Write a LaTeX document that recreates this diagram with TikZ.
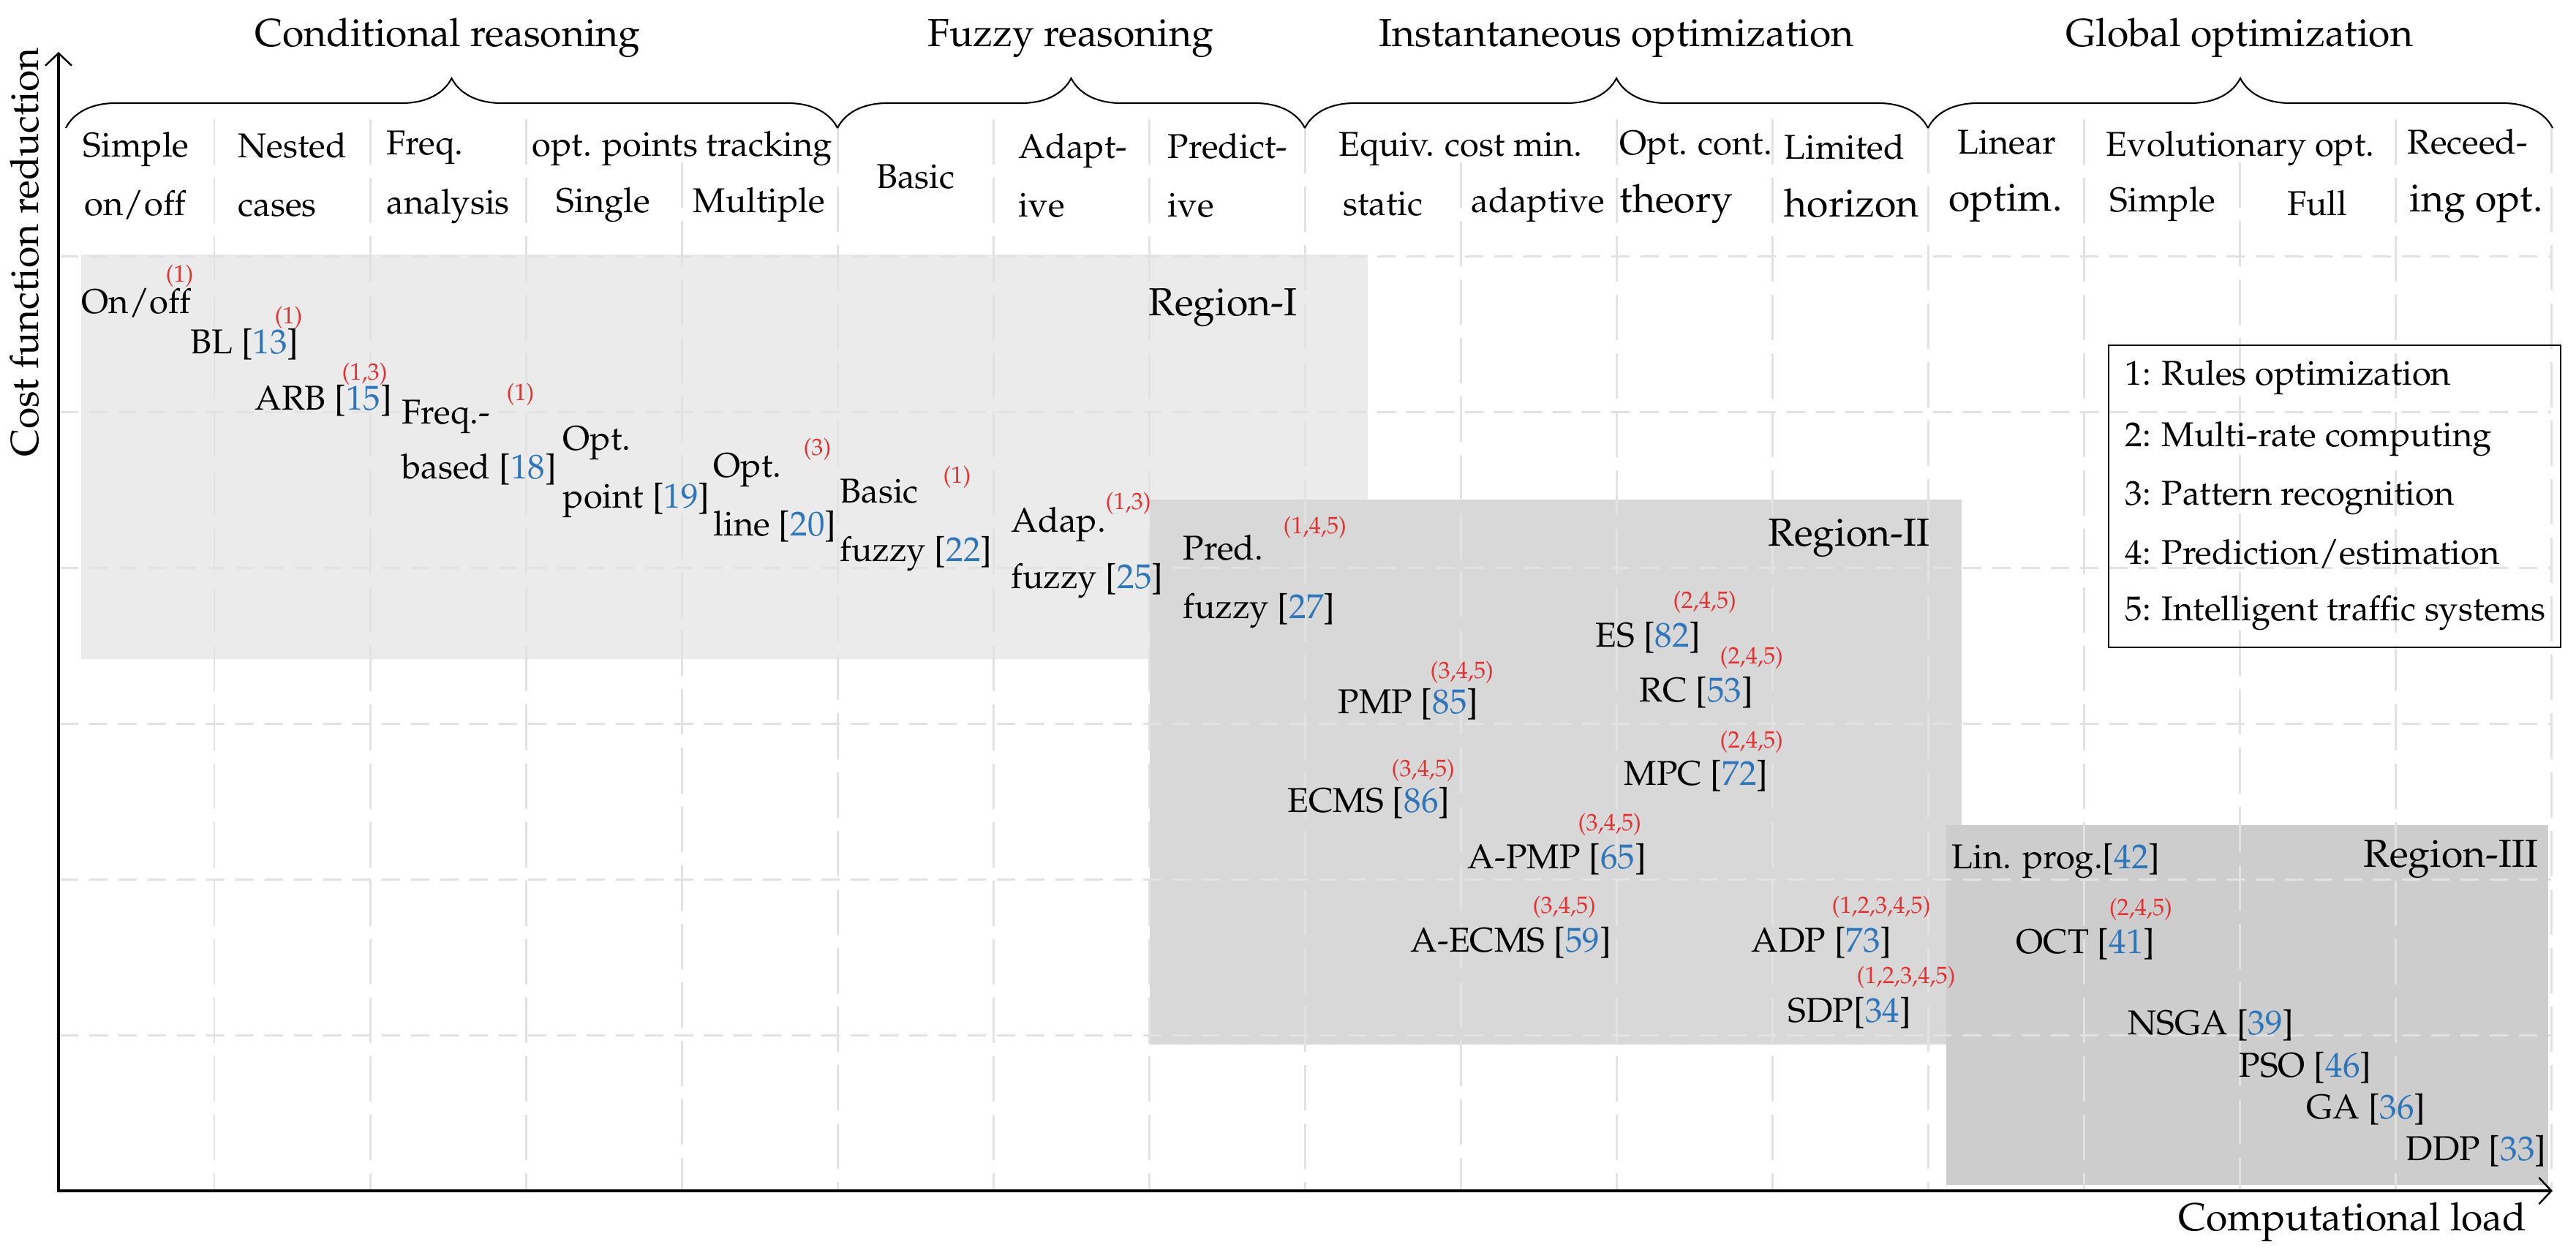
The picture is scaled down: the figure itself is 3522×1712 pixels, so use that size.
\documentclass[tikz,border=0pt]{standalone}
\usepackage[T1]{fontenc}
\usepackage{mathpazo}
\usetikzlibrary{decorations.pathreplacing,arrows.meta}
\definecolor{refblue}{RGB}{46,117,186}
\definecolor{supred}{RGB}{228,50,50}
\definecolor{gridgray}{RGB}{226,226,226}
\definecolor{regA}{RGB}{235,235,235}
\definecolor{regB}{RGB}{216,216,216}
\definecolor{regC}{RGB}{205,205,205}
\newcommand{\szN}{\fontsize{13.4}{16}\selectfont}
\newcommand{\szB}{\fontsize{15.2}{18}\selectfont}
\newcommand{\szS}{\fontsize{9.2}{11}\selectfont}
\newcommand{\rc}[1]{[\textcolor{refblue}{#1}]}
\tikzset{
  lbl/.style={inner sep=0pt, font=\szN, anchor=base west},
  hdr/.style={inner sep=0pt, font=\szN},
  big/.style={inner sep=0pt, font=\szB},
  sup/.style={inner sep=0pt, font=\szS, text=supred, anchor=base west},
  vgrid/.style={gridgray, line width=0.85pt, dash pattern=on 0.62cm off 0.18cm},
  hgrid/.style={gridgray, line width=0.85pt, dash pattern=on 0.25cm off 0.15cm},
  axisline/.style={line width=1.4pt, {Straight Barb[length=0.17cm,width=0.36cm,line width=0.7pt]}-{Straight Barb[length=0.17cm,width=0.36cm,line width=0.7pt]}},
  bracestyle/.style={decorate, decoration={brace, amplitude=0.68cm}, line width=0.6pt},
  regbox/.style={draw=none},
}
\begin{document}
\begin{tikzpicture}[x=0.01cm, y=-0.01cm]
\useasboundingbox (0,0) rectangle (3522,1712);

% regions
\fill[regA] (111,348) rectangle (1870,901);
\fill[regB] (1572,683) rectangle (2682,1428);
\fill[regC] (2661,1128) rectangle (3484,1620);

% grid
\foreach \k/\s in {1/163,2/163,3/163,4/222,5/175,6/163,7/163,8/175,9/222,10/163,11/163,12/175,13/163,14/222,15/163,16/175}
  \draw[vgrid] (80+213*\k,\s) -- (80+213*\k,1626);
\foreach \j in {1,...,6}
  \draw[hgrid] (82,1628-213*\j) -- (3488,1628-213*\j);

% group titles and braces
\node[big, inner sep=0pt, anchor=base] (gcond) at (612,63) {Conditional reasoning};
\node[big, inner sep=0pt, anchor=base] (gfuzzy) at (1464,63) {Fuzzy reasoning};
\node[big, inner sep=0pt, anchor=base] (ginst) at (2210,63) {Instantaneous optimization};
\node[big, inner sep=0pt, anchor=base] (gglob) at (3062,63) {Global optimization};
\coordinate (b0) at (90,175);
\coordinate (b1) at (1145,175);
\coordinate (b2) at (1784,175);
\coordinate (b3) at (2636,175);
\coordinate (b4) at (3490,175);
\draw[bracestyle] (b0) -- (b1);
\draw[bracestyle] (b1) -- (b2);
\draw[bracestyle] (b2) -- (b3);
\draw[bracestyle] (b3) -- (b4);

% column headers
\node[hdr, anchor=base west] (h1a) at (113,214) {Simple};
\node[hdr, anchor=base west] (h1b) at (115,294) {on/off};
\node[hdr, anchor=base west] (h2a) at (325,215) {Nested};
\node[hdr, anchor=base west] (h2b) at (325,295) {cases};
\node[hdr, anchor=base west] (h3a) at (528,211) {Freq.};
\node[hdr, anchor=base west] (h3b) at (528,292) {analysis};
\node[hdr, anchor=base west] (h4a) at (727,213) {opt. points tracking};
\node[hdr, anchor=base] (h4b) at (825,290) {Single};
\node[hdr, anchor=base] (h5b) at (1038,290) {Multiple};
\node[hdr, anchor=base] (h6) at (1252,257) {Basic};
\node[hdr, anchor=base west] (h7a) at (1392,216) {Adapt-};
\node[hdr, anchor=base west] (h7b) at (1392,296) {ive};
\node[hdr, anchor=base west] (h8a) at (1596,216) {Predict-};
\node[hdr, anchor=base west] (h8b) at (1596,296) {ive};
\node[hdr, anchor=base] (h9a) at (1997,213) {Equiv. cost min.};
\node[hdr, anchor=base] (h9b) at (1891,294) {static};
\node[hdr, anchor=base] (h10b) at (2103,290) {adaptive};
\node[hdr, anchor=base west] (h11a) at (2214,211) {Opt. cont.};
\node[big, anchor=base west] (h11b) at (2214,290) {theory};
\node[hdr, anchor=base west] (h12a) at (2439,217) {Limited};
\node[big, anchor=base west] (h12b) at (2439,296) {horizon};
\node[hdr, anchor=base] (h13a) at (2744,210) {Linear};
\node[big, anchor=base] (h13b) at (2742,288) {optim.};
\node[hdr, anchor=base] (h14a) at (3063,213) {Evolutionary opt.};
\node[hdr, anchor=base] (h14b) at (2957,289) {Simple};
\node[hdr, anchor=base] (h15b) at (3168,294) {Full};
\node[hdr, anchor=base west] (h16a) at (3291,210) {Receed-};
\node[big, anchor=base west] (h16b) at (3294,289) {ing opt.};

% region labels
\node[big, anchor=base east] (rI) at (1774,431) {Region-I};
\node[big, anchor=base east] (rII) at (2639,746) {Region-II};
\node[big, anchor=base east] (rIII) at (3471,1185) {Region-III};

% items
\node[lbl] (onoff) at (111,428) {On/off};
\node[sup] (s-onoff) at (226,385) {(1)};
\node[lbl] (bl) at (260,483) {BL \rc{13}};
\node[sup] (s-bl) at (375,442) {(1)};
\node[lbl] (arb) at (348,560) {ARB \rc{15}};
\node[sup] (s-arb) at (467,519) {(1,3)};
\node[lbl] (freqA) at (549,579) {Freq.-};
\node[lbl] (freqB) at (549,654) {based \rc{18}};
\node[sup] (s-freq) at (692,547) {(1)};
\node[lbl] (optpA) at (769,615) {Opt.};
\node[lbl] (optpB) at (769,694) {point \rc{19}};
\node[lbl] (optlA) at (975,652) {Opt.};
\node[lbl] (optlB) at (975,732) {line \rc{20}};
\node[sup] (s-optl) at (1098,622) {(3)};
\node[lbl] (bfA) at (1148,687) {Basic};
\node[lbl] (bfB) at (1148,767) {fuzzy \rc{22}};
\node[sup] (s-bf) at (1289,660) {(1)};
\node[lbl] (afA) at (1382,727) {Adap.};
\node[lbl] (afB) at (1382,804) {fuzzy \rc{25}};
\node[sup] (s-af) at (1511,696) {(1,3)};
\node[lbl] (pfA) at (1617,765) {Pred.};
\node[lbl] (pfB) at (1617,845) {fuzzy \rc{27}};
\node[sup] (s-pf) at (1754,729) {(1,4,5)};
\node[lbl] (es) at (2181,884) {ES \rc{82}};
\node[sup] (s-es) at (2287,831) {(2,4,5)};
\node[lbl] (rc) at (2241,959) {RC \rc{53}};
\node[sup] (s-rc) at (2351,907) {(2,4,5)};
\node[lbl] (pmp) at (1829,975) {PMP \rc{85}};
\node[sup] (s-pmp) at (1955,927) {(3,4,5)};
\node[lbl] (mpc) at (2220,1073) {MPC \rc{72}};
\node[sup] (s-mpc) at (2351,1022) {(2,4,5)};
\node[lbl] (ecms) at (1760,1110) {ECMS \rc{86}};
\node[sup] (s-ecms) at (1902,1061) {(3,4,5)};
\node[lbl] (apmp) at (2006,1187) {A-PMP \rc{65}};
\node[sup] (s-apmp) at (2157,1135) {(3,4,5)};
\node[lbl] (aecms) at (1928,1301) {A-ECMS \rc{59}};
\node[sup] (s-aecms) at (2095,1248) {(3,4,5)};
\node[lbl] (adp) at (2394,1301) {ADP \rc{73}};
\node[sup] (s-adp) at (2504,1248) {(1,2,3,4,5)};
\node[lbl] (sdp) at (2444,1397) {SDP\rc{34}};
\node[sup] (s-sdp) at (2538,1344) {(1,2,3,4,5)};
\node[lbl] (linprog) at (2668,1187) {Lin. prog.\rc{42}};
\node[lbl] (oct) at (2756,1303) {OCT \rc{41}};
\node[sup] (s-oct) at (2883,1251) {(2,4,5)};
\node[lbl] (nsga) at (2909,1414) {NSGA \rc{39}};
\node[lbl] (pso) at (3061,1472) {PSO \rc{46}};
\node[lbl] (ga) at (3153,1529) {GA \rc{36}};
\node[lbl] (ddp) at (3289,1586) {DDP \rc{33}};

% legend
\draw[line width=0.75pt] (2883,472) rectangle (3501,885);
\node[lbl] (lg1) at (2905,526) {1: Rules optimization};
\node[lbl] (lg2) at (2905,610) {2: Multi-rate computing};
\node[lbl] (lg3) at (2905,690) {3: Pattern recognition};
\node[lbl] (lg4) at (2905,771) {4: Prediction/estimation};
\node[lbl] (lg5) at (2905,848) {5: Intelligent traffic systems};

% axes
\coordinate (ytip) at (80,71);
\coordinate (origin) at (80,1628);
\coordinate (xtip) at (3490,1628);
\draw[axisline] (ytip) -- (origin) -- (xtip);
\node[big, anchor=base east] (xlab) at (3455,1682) {Computational load};
\node[big, rotate=90, anchor=base] (ylab) at (52,345) {Cost function reduction};
\end{tikzpicture}
\end{document}
